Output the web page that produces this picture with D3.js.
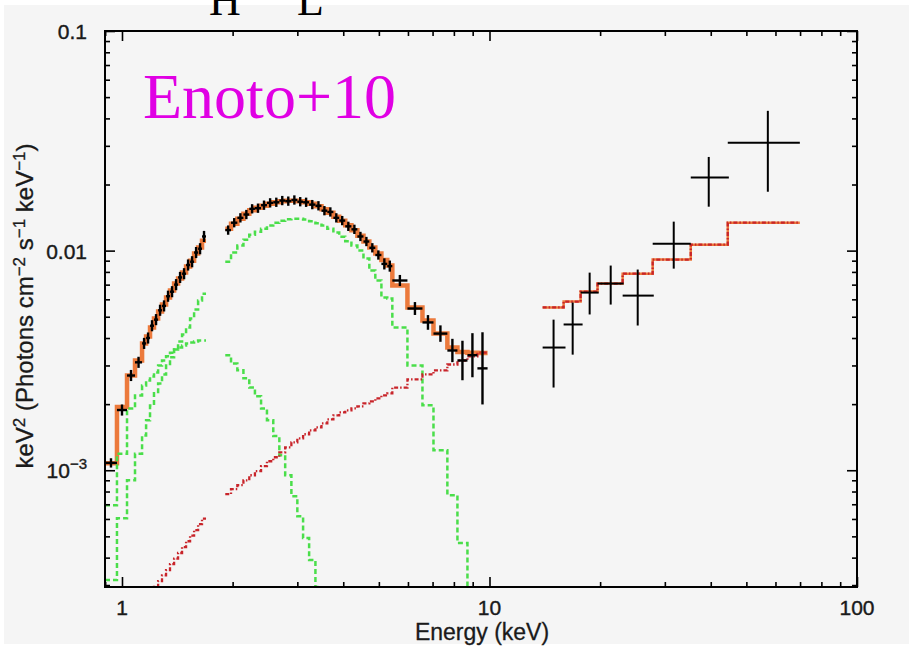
<!DOCTYPE html>
<html><head><meta charset="utf-8">
<script src="https://cdn.jsdelivr.net/npm/d3@7"></script>
<style>body{margin:0;background:#fff;} svg{display:block}</style>
</head><body><svg id="c" width="909" height="647"></svg>
<script>
// ---------------- DATA ----------------
// Soft band, part 1 (below the Si-edge gap): bin edges in keV
const lowEdges = [0.899, 0.969, 1.032, 1.085, 1.134, 1.163, 1.192, 1.222, 1.254, 1.285, 1.318, 1.351, 1.386, 1.421, 1.457, 1.494, 1.532, 1.571, 1.611, 1.651, 1.693];
const lowData  = [1.08e-3, 1.88e-3, 2.70e-3, 3.10e-3, 3.78e-3, 4.00e-3, 4.55e-3, 4.85e-3, 5.35e-3, 5.60e-3, 6.20e-3, 6.50e-3, 7.00e-3, 7.55e-3, 7.85e-3, 8.60e-3, 8.90e-3, 9.80e-3, 0.0102, 0.0116];
const lowErr   = [0.05, 0.06, 0.06, 0.06, 0.06, 0.06, 0.06, 0.06, 0.06, 0.06, 0.06, 0.06, 0.06, 0.06, 0.06, 0.06, 0.06, 0.06, 0.06, 0.06];
const lowModel = [1.076e-3, 1.94e-3, 2.70e-3, 3.16e-3, 3.78e-3, 4.06e-3, 4.47e-3, 4.91e-3, 5.28e-3, 5.68e-3, 6.11e-3, 6.58e-3, 7.08e-3, 7.46e-3, 7.94e-3, 8.46e-3, 9.00e-3, 9.69e-3, 0.01032, 0.01109];
const lowHot   = [3.16e-4, 6.05e-4, 9.0e-4, 1.19e-3, 1.44e-3, 1.69e-3, 1.97e-3, 2.24e-3, 2.48e-3, 2.73e-3, 3.0e-3, 3.27e-3, 3.55e-3, 3.86e-3, 4.15e-3, 4.47e-3, 4.91e-3, 5.39e-3, 5.93e-3, 6.37e-3];
const lowCool  = [6.93e-4, 1.19e-3, 1.91e-3, 2.19e-3, 2.43e-3, 2.56e-3, 2.67e-3, 2.79e-3, 3.0e-3, 3.16e-3, 3.30e-3, 3.43e-3, 3.55e-3, 3.62e-3, 3.70e-3, 3.78e-3, 3.82e-3, 3.86e-3, 3.90e-3, 3.90e-3];
const lowPL    = [1.7e-4, 1.9e-4, 2.1e-4, 2.3e-4, 2.45e-4, 2.6e-4, 2.75e-4, 2.94e-4, 3.13e-4, 3.32e-4, 3.51e-4, 3.74e-4, 3.96e-4, 4.20e-4, 4.47e-4, 4.75e-4, 5.04e-4, 5.34e-4, 5.68e-4, 6.02e-4];

// Soft band, part 2 (2-10 keV)
const midEdges = [1.91, 1.98, 2.06, 2.14, 2.22, 2.30, 2.39, 2.48, 2.58, 2.68, 2.78, 2.89, 3.00, 3.11, 3.23, 3.36, 3.49, 3.62, 3.76, 3.90, 4.05, 4.21, 4.37, 4.54, 4.71, 4.89, 5.08, 5.27, 5.44, 5.98, 6.57, 7.04, 7.68, 8.18, 8.71, 9.27, 9.88];
const midData  = [0.0124, 0.0134, 0.0141, 0.0146, 0.0155, 0.0156, 0.0161, 0.0165, 0.0166, 0.0169, 0.0168, 0.0170, 0.0167, 0.0166, 0.0162, 0.0160, 0.0152, 0.0150, 0.0141, 0.0137, 0.0129, 0.0125, 0.0116, 0.0110, 0.0103, 0.00955, 0.00870, 0.00850, 0.00731, 0.00545, 0.00471, 0.00419, 0.00351, 0.00316, 0.00334, 0.00291];
const midErr   = [0.05, 0.05, 0.05, 0.05, 0.05, 0.05, 0.05, 0.05, 0.05, 0.05, 0.05, 0.05, 0.05, 0.05, 0.05, 0.05, 0.05, 0.05, 0.05, 0.05, 0.05, 0.05, 0.05, 0.05, 0.05, 0.05, 0.06, 0.06, 0.06, 0.07, 0.08, 0.09, 0.13, 0.23, 0.26, 0.46];
const midModel = [0.01259, 0.01327, 0.01398, 0.01473, 0.01528, 0.01569, 0.0160, 0.01636, 0.01662, 0.01679, 0.01687, 0.01687, 0.01679, 0.01662, 0.01636, 0.01592, 0.01544, 0.01489, 0.01427, 0.01368, 0.01306, 0.01239, 0.0117, 0.01099, 0.01032, 0.00969, 0.00906, 0.00855, 0.00694, 0.00551, 0.00481, 0.00419, 0.00362, 0.00345, 0.00343, 0.00342];
const midHot   = [0.00891, 0.0098, 0.01054, 0.01122, 0.01182, 0.0122, 0.01259, 0.0130, 0.0134, 0.01368, 0.0139, 0.01398, 0.01398, 0.01384, 0.01361, 0.01334, 0.0130, 0.01259, 0.01208, 0.01158, 0.01104, 0.01054, 0.0100, 0.0092, 0.00811, 0.00731, 0.00611, 0.00605, 0.00447, 0.0030, 0.001975, 0.001233, 0.00077, 0.000466, 0.0002, 0.0001];
const midCool  = [0.00334, 0.00306, 0.00285, 0.00262, 0.00238, 0.00217, 0.00191, 0.00169, 0.00143, 0.00117, 0.000949, 0.000762, 0.000618, 0.000491, 0.00039, 0.000294, 0.00023];
const midPL    = [7.78e-4, 8.2e-4, 8.55e-4, 9.0e-4, 9.49e-4, 9.9e-4, 1.043e-3, 1.099e-3, 1.146e-3, 1.207e-3, 1.272e-3, 1.34e-3, 1.398e-3, 1.458e-3, 1.52e-3, 1.568e-3, 1.635e-3, 1.705e-3, 1.778e-3, 1.834e-3, 1.874e-3, 1.914e-3, 1.954e-3, 2.016e-3, 2.06e-3, 2.125e-3, 2.19e-3, 2.24e-3, 2.38e-3, 2.59e-3, 2.73e-3, 2.85e-3, 3.03e-3, 3.16e-3, 3.30e-3, 3.43e-3];

// Hard band (HXD)
const hardE    = [14.94, 16.84, 18.73, 21.37, 25.31, 31.72, 39.5, 57.2];
const hardElo  = [13.95, 15.91, 17.70, 19.68, 23.03, 27.8, 35.29, 44.5];
const hardEhi  = [16.1, 17.92, 19.82, 23.18, 27.99, 35.29, 44.8, 69.9];
const hardY    = [3.62e-3, 4.61e-3, 6.44e-3, 7.08e-3, 6.24e-3, 0.01076, 0.0215, 0.0310];
const hardYlo  = [2.38e-3, 3.36e-3, 5.12e-3, 5.68e-3, 4.56e-3, 8.28e-3, 0.01585, 0.01854];
const hardYhi  = [4.85e-3, 5.80e-3, 7.94e-3, 8.55e-3, 8.20e-3, 0.01355, 0.0267, 0.0433];
const hardEdges = [13.95, 15.91, 17.70, 19.68, 23.03, 27.8, 35.29, 44.5, 69.9];
const hardModel = [5.51e-3, 5.86e-3, 6.51e-3, 7.08e-3, 7.85e-3, 9.1e-3, 0.01064, 0.0134];
const hardPL    = [5.51e-3, 5.86e-3, 6.51e-3, 7.08e-3, 7.85e-3, 9.1e-3, 0.01064, 0.0134];

// Axis ticks / labels
const xMajorTicks = [1, 10, 100];
const xTickLabels = ["1", "10", "100"];
const xMinorTicks = [0.9, 2, 3, 4, 5, 6, 7, 8, 9, 20, 30, 40, 50, 60, 70, 80, 90];
const yMajorTicks = [0.1, 0.01, 0.001];
const yTickLabels = [["0.1", ""], ["0.01", ""], ["10", "\u22123"]];
const yMinorTicks = [3e-4, 4e-4, 5e-4, 6e-4, 7e-4, 8e-4, 9e-4, 2e-3, 3e-3, 4e-3, 5e-3, 6e-3, 7e-3, 8e-3, 9e-3, 0.02, 0.03, 0.04, 0.05, 0.06, 0.07, 0.08, 0.09];

// ---------------- DRAWING ----------------
const W = 909, H = 647;
const L = 105, R = 857, T = 31, B = 587;
const svg = d3.select('#c');
svg.append('rect').attr('width', W).attr('height', H).attr('fill', '#ffffff');
svg.append('rect').attr('x', 4).attr('y', 5).attr('width', W - 4).attr('height', H - 8).attr('fill', '#f5f5f5');

const x = d3.scaleLog().domain([0.899, 100]).range([L, R]);
const y = d3.scaleLog().domain([2.94e-4, 0.1]).range([B, T]);

svg.append('clipPath').attr('id', 'clip').append('rect')
  .attr('x', L).attr('y', T).attr('width', R - L).attr('height', B - T);
const plot = svg.append('g').attr('clip-path', 'url(#clip)');

function stepPts(edges, vals) {
  const pts = [];
  vals.forEach((v, i) => { if (i + 1 < edges.length) { pts.push([edges[i], v]); pts.push([edges[i + 1], v]); } });
  return pts;
}
const line = d3.line().x(d => x(d[0])).y(d => y(Math.max(d[1], 1e-5)));

const ORANGE = '#ec7a3c', GREEN = '#4ade4a', RED = '#c8242a';

// total model (thick orange in soft band, thin in hard band)
[[lowEdges, lowModel], [midEdges, midModel]].forEach(([e, v]) => {
  plot.append('path').attr('d', line(stepPts(e, v))).attr('fill', 'none')
    .attr('stroke', ORANGE).attr('stroke-width', 4.5).attr('stroke-linejoin', 'miter');
});
plot.append('path').attr('d', line(stepPts(hardEdges, hardModel))).attr('fill', 'none')
  .attr('stroke', ORANGE).attr('stroke-width', 2.5);

// blackbody components (green dashed)
[[lowEdges, lowHot], [lowEdges, lowCool], [midEdges, midHot], [midEdges, midCool]].forEach(([e, v]) => {
  plot.append('path').attr('d', line(stepPts(e, v))).attr('fill', 'none')
    .attr('stroke', GREEN).attr('stroke-width', 2.5).attr('stroke-dasharray', '5,3');
});
// power-law component (red dash-dot)
[[lowEdges, lowPL], [midEdges, midPL], [hardEdges, hardPL]].forEach(([e, v]) => {
  plot.append('path').attr('d', line(stepPts(e, v))).attr('fill', 'none')
    .attr('stroke', RED).attr('stroke-width', 2.3).attr('stroke-dasharray', '4,2,1.5,2');
});

// data crosses
function crosses(pts, sw) {
  const g = plot.append('g').attr('stroke', '#000').attr('stroke-width', sw).attr('fill', 'none');
  pts.forEach(p => {
    g.append('line').attr('x1', x(p.elo)).attr('x2', x(p.ehi)).attr('y1', y(p.v)).attr('y2', y(p.v));
    g.append('line').attr('x1', x(p.e)).attr('x2', x(p.e)).attr('y1', y(p.vlo)).attr('y2', y(p.vhi));
  });
}
function binned(edges, vals, errs) {
  return vals.map((v, i) => ({ e: Math.sqrt(edges[i] * edges[i + 1]), elo: edges[i], ehi: edges[i + 1], v: v, vlo: v / (1 + errs[i]), vhi: v * (1 + errs[i]) }));
}
crosses(binned(lowEdges, lowData, lowErr), 2.4);
crosses(binned(midEdges, midData, midErr), 2.4);
crosses(hardE.map((e, i) => ({ e: e, elo: hardElo[i], ehi: hardEhi[i], v: hardY[i], vlo: hardYlo[i], vhi: hardYhi[i] })), 2);

// axes (ticks inside the frame on all four sides)
function styleAxis(g) { g.select('.domain').remove(); g.selectAll('line').attr('stroke', '#000').attr('stroke-width', 1.6); g.selectAll('text').remove(); }
svg.append('g').attr('transform', `translate(0,${B})`).call(d3.axisBottom(x).tickValues(xMajorTicks).tickSizeInner(-10).tickSizeOuter(0)).call(styleAxis);
svg.append('g').attr('transform', `translate(0,${B})`).call(d3.axisBottom(x).tickValues(xMinorTicks).tickSizeInner(-5).tickSizeOuter(0)).call(styleAxis);
svg.append('g').attr('transform', `translate(0,${T})`).call(d3.axisTop(x).tickValues(xMajorTicks).tickSizeInner(-10).tickSizeOuter(0)).call(styleAxis);
svg.append('g').attr('transform', `translate(0,${T})`).call(d3.axisTop(x).tickValues(xMinorTicks).tickSizeInner(-5).tickSizeOuter(0)).call(styleAxis);
svg.append('g').attr('transform', `translate(${L},0)`).call(d3.axisLeft(y).tickValues(yMajorTicks).tickSizeInner(-10).tickSizeOuter(0)).call(styleAxis);
svg.append('g').attr('transform', `translate(${L},0)`).call(d3.axisLeft(y).tickValues(yMinorTicks).tickSizeInner(-5).tickSizeOuter(0)).call(styleAxis);
svg.append('g').attr('transform', `translate(${R},0)`).call(d3.axisRight(y).tickValues(yMajorTicks).tickSizeInner(-10).tickSizeOuter(0)).call(styleAxis);
svg.append('g').attr('transform', `translate(${R},0)`).call(d3.axisRight(y).tickValues(yMinorTicks).tickSizeInner(-5).tickSizeOuter(0)).call(styleAxis);

svg.append('rect').attr('x', L).attr('y', T).attr('width', R - L).attr('height', B - T)
  .attr('fill', 'none').attr('stroke', '#000').attr('stroke-width', 2);

// tick labels
const FONT = "'Liberation Sans', Arial, Helvetica, sans-serif";
xMajorTicks.forEach((t, i) => {
  svg.append('text').attr('x', x(t)).attr('y', 615).attr('text-anchor', 'middle')
    .attr('font-family', FONT).attr('font-size', 21).attr('fill', '#1a1a1a')
    .attr('stroke', '#1a1a1a').attr('stroke-width', 0.4).text(xTickLabels[i]);
});
yMajorTicks.forEach((t, i) => {
  const tx = svg.append('text').attr('x', 87).attr('y', y(t) + 8).attr('text-anchor', 'end')
    .attr('font-family', FONT).attr('font-size', 21).attr('fill', '#1a1a1a')
    .attr('stroke', '#1a1a1a').attr('stroke-width', 0.4);
  tx.append('tspan').text(yTickLabels[i][0]);
  if (yTickLabels[i][1]) tx.append('tspan').attr('dy', -9).attr('font-size', 15).text(yTickLabels[i][1]);
});

// axis titles
svg.append('text').attr('x', 482).attr('y', 640).attr('text-anchor', 'middle')
  .attr('font-family', FONT).attr('font-size', 23).attr('fill', '#1a1a1a')
  .attr('stroke', '#1a1a1a').attr('stroke-width', 0.3).text('Energy (keV)');

const yt = svg.append('text').attr('transform', 'translate(33,306) rotate(-90)').attr('text-anchor', 'middle')
  .attr('font-family', FONT).attr('font-size', 24).attr('fill', '#1a1a1a')
  .attr('stroke', '#1a1a1a').attr('stroke-width', 0.3);
const parts = [['keV', 0], ['2', 1], [' (Photons cm', 0], ['\u22122', 1], [' s', 0], ['\u22121', 1], [' keV', 0], ['\u22121', 1], [')', 0]];
let prevSup = false;
parts.forEach(([s, sup]) => {
  const ts = yt.append('tspan').text(s);
  if (sup && !prevSup) ts.attr('dy', -8).attr('font-size', 17);
  else if (!sup && prevSup) ts.attr('dy', 8);
  prevSup = !!sup;
});

// annotation
svg.append('text').attr('x', 143).attr('y', 118).attr('font-family', "'Liberation Serif', 'Times New Roman', serif")
  .attr('font-size', 64).attr('fill', '#e000e4').text('Enoto+10');
svg.append('text').attr('x', 209).attr('y', 15).attr('font-family', "'Liberation Serif', 'Times New Roman', serif")
  .attr('font-size', 44).attr('fill', '#000').text('H');
svg.append('text').attr('x', 297).attr('y', 15).attr('font-family', "'Liberation Serif', 'Times New Roman', serif")
  .attr('font-size', 44).attr('fill', '#000').text('L');
</script></body></html>
